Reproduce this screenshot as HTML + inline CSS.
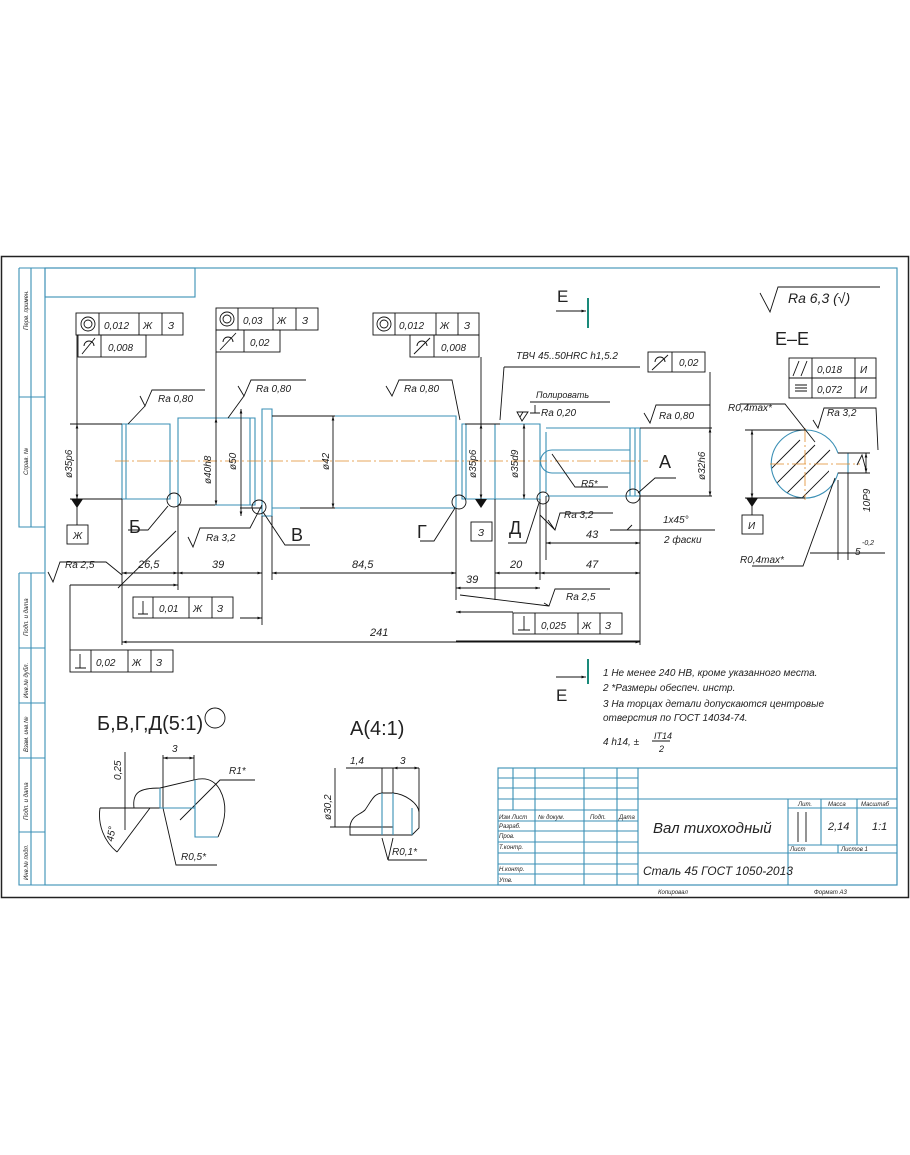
<!DOCTYPE html>
<html><head><meta charset="utf-8"><style>
html,body{margin:0;padding:0;background:#fff;}
svg{display:block;}
text{font-family:"Liberation Sans","DejaVu Sans",sans-serif;font-style:italic;fill:#222;}
.b{stroke:#3a8fb5;fill:none;stroke-width:1.1}
.k{stroke:#111;fill:none;stroke-width:0.9}
.K{stroke:#111;fill:none;stroke-width:1.3}
.c{stroke:#e08a2a;stroke-width:0.8;stroke-dasharray:14 3 2 3;fill:none}
</style></head><body>
<svg width="910" height="1155" viewBox="0 0 910 1155" xmlns="http://www.w3.org/2000/svg">
<defs>
<marker id="a" viewBox="0 0 10 10" refX="10" refY="5" markerWidth="7" markerHeight="5" orient="auto-start-reverse"><path d="M0,2 L10,5 L0,8z" fill="#111"/></marker>
</defs>
<rect x="0" y="0" width="910" height="1155" fill="#fff"/>
<!-- frames -->
<rect x="1.5" y="256.5" width="907" height="641" fill="none" stroke="#222" stroke-width="1.5"/>
<rect x="45" y="268" width="852" height="617" class="b"/>
<rect x="45" y="268" width="150" height="29" class="b"/>
<!-- left strip -->
<path class="b" d="M19,268H45 M19,268V527H45 M31,268V527 M19,397H45 M19,573H45 M19,573V885H45 M31,573V885 M19,648H45 M19,703H45 M19,758H45 M19,832H45"/>
<g font-size="6">
<text transform="translate(28,330) rotate(-90)">Перв. примен.</text>
<text transform="translate(28,475) rotate(-90)">Справ. №</text>
<text transform="translate(28,636) rotate(-90)">Подп. и дата</text>
<text transform="translate(28,698) rotate(-90)">Инв.№ дубл.</text>
<text transform="translate(28,752) rotate(-90)">Взам. инв.№</text>
<text transform="translate(28,820) rotate(-90)">Подп. и дата</text>
<text transform="translate(28,880) rotate(-90)">Инв.№ подл.</text>
</g>
<!-- shaft -->
<path class="b" d="M122,424H170V499H122Z M126,424V499 M170,429V494 M178,418H255V505H178Z M250,418V505 M262,409H272V516H262Z M272,416H456V508H272 M456,420V504 M462,424H495V499H462Z M466,424V499 M495,424H540V499H495 M540,428V496 M546,428H640V496H546 M546,432V492 M630,428V496 M635,428V496"/>
<path class="b" d="M552,450H630 M552,473H630 M552,450A11,11 0 0 0 552,473"/>
<line class="c" x1="115" y1="461" x2="648" y2="461"/>
<!-- black outline helpers -->
<path class="k" d="M70,424H122 M70,499H122 M178,505H215 M240,508H262 M272,416H335 M300,508H335 M640,428H712 M640,496H712 M465,424H500"/>
<!-- dim verticals -->
<g class="k">
<line x1="77" y1="424" x2="77" y2="499" marker-start="url(#a)" marker-end="url(#a)"/>
<line x1="216" y1="418" x2="216" y2="505" marker-start="url(#a)" marker-end="url(#a)"/>
<line x1="241" y1="409" x2="241" y2="516" marker-start="url(#a)" marker-end="url(#a)"/>
<line x1="333" y1="416" x2="333" y2="508" marker-start="url(#a)" marker-end="url(#a)"/>
<line x1="481" y1="424" x2="481" y2="499" marker-start="url(#a)" marker-end="url(#a)"/>
<line x1="524" y1="424" x2="524" y2="499" marker-start="url(#a)" marker-end="url(#a)"/>
<line x1="710" y1="428" x2="710" y2="496" marker-start="url(#a)" marker-end="url(#a)"/>
<path d="M77,335V424 M216,352V418 M481,357V424 M710,372V428 M77,499V525"/>
</g>
<path d="M71,499H83L77,508Z" fill="#111"/>
<path d="M475,499H487L481,508Z" fill="#111"/>
<rect x="67" y="525" width="21" height="19" class="k"/>
<rect x="471" y="522" width="21" height="19" class="k"/>
<g font-size="10">
<text transform="translate(72,478) rotate(-90)">ø35p6</text>
<text transform="translate(211,484) rotate(-90)">ø40h8</text>
<text transform="translate(236,470) rotate(-90)">ø50</text>
<text transform="translate(329,470) rotate(-90)">ø42</text>
<text transform="translate(476,478) rotate(-90)">ø35p6</text>
<text transform="translate(518,478) rotate(-90)">ø35d9</text>
<text transform="translate(705,480) rotate(-90)">ø32h6</text>
<text x="73" y="539">Ж</text><text x="478" y="536">З</text>
</g>
<!-- tolerance frames -->
<g class="k">
<rect x="76" y="313" width="107" height="22"/><path d="M99,313V335 M139,313V335 M162,313V335"/>
<rect x="78" y="335" width="68" height="22"/><path d="M101,335V357"/>
<rect x="216" y="308" width="102" height="22"/><path d="M238,308V330 M273,308V330 M296,308V330"/>
<rect x="216" y="330" width="64" height="22"/><path d="M244,330V352"/>
<rect x="373" y="313" width="106" height="22"/><path d="M395,313V335 M436,313V335 M458,313V335"/>
<rect x="410" y="335" width="69" height="22"/><path d="M434,335V357"/>
<rect x="648" y="352" width="57" height="20"/><path d="M672,352V372"/>
<rect x="789" y="358" width="87" height="20"/><path d="M812,358V378 M855,358V378"/>
<rect x="789" y="378" width="87" height="20"/><path d="M812,378V398 M855,378V398"/>
<rect x="133" y="597" width="100" height="21"/><path d="M153,597V618 M189,597V618 M212,597V618"/>
<rect x="70" y="650" width="103" height="22"/><path d="M91,650V672 M128,650V672 M151,650V672"/>
<rect x="513" y="613" width="109" height="21"/><path d="M535,613V634 M578,613V634 M600,613V634"/>
</g>
<g class="k">
<circle cx="88" cy="324" r="7"/><circle cx="88" cy="324" r="4"/>
<circle cx="227" cy="319" r="7"/><circle cx="227" cy="319" r="4"/>
<circle cx="384" cy="324" r="7"/><circle cx="384" cy="324" r="4"/>
<path d="M82,354L95,338 M84,346A5,5 0 1 1 94,346" />
<path d="M220,350L236,333 M223,342A5,5 0 1 1 233,342"/>
<path d="M414,354L430,338 M417,346A5,5 0 1 1 427,346"/>
<path d="M652,370L668,355 M655,362A5,5 0 1 1 665,362"/>
<path d="M793,376L799,361 M801,376L807,361 M795,385H807 M795,388H807 M795,391H807"/>
<path d="M138,614H148 M143,614V601 M75,668H86 M80,668V654 M518,630H530 M524,630V616"/>
</g>
<g font-size="10">
<text x="104" y="329">0,012</text><text x="143" y="329">Ж</text><text x="168" y="329">З</text>
<text x="108" y="351">0,008</text>
<text x="243" y="324">0,03</text><text x="277" y="324">Ж</text><text x="302" y="324">З</text>
<text x="250" y="346">0,02</text>
<text x="399" y="329">0,012</text><text x="440" y="329">Ж</text><text x="464" y="329">З</text>
<text x="441" y="351">0,008</text>
<text x="679" y="366">0,02</text>
<text x="817" y="373">0,018</text><text x="860" y="373">И</text>
<text x="817" y="393">0,072</text><text x="860" y="393">И</text>
<text x="159" y="612">0,01</text><text x="193" y="612">Ж</text><text x="217" y="612">З</text>
<text x="96" y="666">0,02</text><text x="132" y="666">Ж</text><text x="156" y="666">З</text>
<text x="541" y="629">0,025</text><text x="582" y="629">Ж</text><text x="605" y="629">З</text>
</g>
<!-- roughness -->
<g class="k">
<path d="M140,396L145,406L152,390H205 M145,406L128,424"/>
<path d="M238,386L244,396L251,380H306 M244,396L228,418"/>
<path d="M386,386L392,396L399,380H452L460,420"/>
<path d="M644,413L650,423L656,405H710"/>
<path d="M188,537L193,547L200,528H250L262,505"/>
<path d="M48,572L53,582L60,562H106L122,575 M118,588L176,531"/>
<path d="M548,520L555,530L560,513H613 M555,530L540,515"/>
<path d="M544,603L549,606L555,589H610 M460,595L549,606"/>
<path d="M813,420L818,428L824,408H876L878,450"/>
<path d="M760,293L770,312L778,287H880"/>
<path d="M520,417L523,412H520 M517,412H528L522,421Z M535,405V413 M530,413H540 M530,402H610"/>
<path d="M504,367H640 M504,367L500,420"/>
</g>
<g font-size="10">
<text x="158" y="402">Ra 0,80</text>
<text x="256" y="392">Ra 0,80</text>
<text x="404" y="392">Ra 0,80</text>
<text x="659" y="419">Ra 0,80</text>
<text x="206" y="541">Ra 3,2</text>
<text x="65" y="568">Ra 2,5</text>
<text x="564" y="518">Ra 3,2</text>
<text x="566" y="600">Ra 2,5</text>
<text x="827" y="416">Ra 3,2</text>
<text x="541" y="416">Ra 0,20</text>
<text x="536" y="398" font-size="9">Полировать</text>
<text x="516" y="359">ТВЧ 45..50HRC h1,5.2</text>
</g>
<text x="788" y="303" font-size="14">Ra 6,3 (√)</text>
<!-- detail circles and labels -->
<g class="k">
<circle cx="174" cy="500" r="7"/><circle cx="259" cy="507" r="7"/>
<circle cx="459" cy="502" r="7"/><circle cx="543" cy="498" r="6"/>
<circle cx="633" cy="496" r="7"/>
<path d="M168,506L148,530H128 M263,512L285,545H310 M455,508L434,541H420 M539,503L526,543H508 M638,493L655,478H676"/>
<path d="M552,454L575,487H608"/>
</g>
<g font-size="18" style="font-style:normal">
<text x="129" y="533" style="font-style:normal">Б</text>
<text x="291" y="541" style="font-style:normal">В</text>
<text x="417" y="538" style="font-style:normal">Г</text>
<text x="509" y="534" style="font-style:normal">Д</text>
<text x="659" y="468" style="font-style:normal">А</text>
</g>
<text x="581" y="487" font-size="10">R5*</text>
<text x="663" y="523" font-size="10">1x45°</text>
<text x="664" y="543" font-size="10">2 фаски</text>
<path class="k" d="M625,530H715 M627,530L632,525 M610,530H632 M643,530H655"/>
<!-- lower dimensions -->
<g class="k">
<path d="M122,499V645 M178,505V590 M262,516V625 M272,516V580 M456,508V600 M495,499V600 M540,499V580 M546,496V560 M640,496V645 M70,585V650"/>
<line x1="122" y1="573" x2="178" y2="573" marker-start="url(#a)" marker-end="url(#a)"/>
<line x1="178" y1="573" x2="262" y2="573" marker-start="url(#a)" marker-end="url(#a)"/>
<line x1="272" y1="573" x2="456" y2="573" marker-start="url(#a)" marker-end="url(#a)"/>
<line x1="456" y1="588" x2="540" y2="588" marker-start="url(#a)" marker-end="url(#a)"/>
<line x1="495" y1="573" x2="540" y2="573" marker-start="url(#a)" marker-end="url(#a)"/>
<line x1="540" y1="573" x2="640" y2="573" marker-start="url(#a)" marker-end="url(#a)"/>
<line x1="546" y1="543" x2="640" y2="543" marker-start="url(#a)" marker-end="url(#a)"/>
<line x1="122" y1="642" x2="640" y2="642" marker-start="url(#a)" marker-end="url(#a)"/>
<line x1="70" y1="585" x2="178" y2="585" marker-end="url(#a)"/>
<line x1="240" y1="618" x2="262" y2="618" marker-end="url(#a)"/>
<line x1="456" y1="612" x2="513" y2="612" marker-start="url(#a)"/>
<line x1="456" y1="641" x2="640" y2="641"/>
</g>
<g font-size="11">
<text x="138" y="568">26,5</text><text x="212" y="568">39</text><text x="352" y="568">84,5</text>
<text x="466" y="583">39</text><text x="510" y="568">20</text><text x="586" y="568">47</text>
<text x="586" y="538">43</text><text x="370" y="636">241</text>
</g>
<!-- section marks E -->
<g>
<path class="k" d="M556,311H586" marker-end="url(#a)"/>
<line x1="588" y1="298" x2="588" y2="328" stroke="#1a8a7a" stroke-width="2"/>
<text x="557" y="302" font-size="17" style="font-style:normal">E</text>
<path class="k" d="M556,677H586" marker-end="url(#a)"/>
<line x1="588" y1="659" x2="588" y2="684" stroke="#1a8a7a" stroke-width="2"/>
<text x="556" y="701" font-size="17" style="font-style:normal">E</text>
</g>
<!-- section E-E -->
<text x="775" y="345" font-size="18" style="font-style:normal">E–E</text>
<clipPath id="cc"><path d="M805,430A34,34 0 1 0 838,473H829V453H838A34,34 0 0 0 805,430Z"/></clipPath>
<g clip-path="url(#cc)" class="k"><path d="M760,480L800,440 M765,495L815,445 M775,505L830,450 M790,510L840,460 M750,465L790,425 M745,450L775,420"/></g>
<path class="b" d="M805,430A34,34 0 1 0 838,473H848V453H838A34,34 0 0 0 805,430Z"/>
<path class="c" d="M770,464H860 M805,428V500"/>
<g class="k">
<line x1="752" y1="430" x2="752" y2="498" marker-start="url(#a)" marker-end="url(#a)"/>
<path d="M745,430H805 M745,498H805 M752,498V515 M838,453H870 M838,473H870 M848,473V560 M838,480V560 M740,404H785L815,442 M752,566H803L835,478 M810,553H885"/>
<line x1="866" y1="453" x2="866" y2="473" marker-start="url(#a)" marker-end="url(#a)"/>
<path d="M857,465L862,455L866,470"/>
</g>
<path d="M746,498H758L752,507Z" fill="#111"/>
<rect x="742" y="515" width="21" height="19" class="k"/>
<text x="748" y="529" font-size="10">И</text>
<g font-size="10">
<text x="728" y="411">R0,4max*</text>
<text x="740" y="563">R0,4max*</text>
<text transform="translate(870,512) rotate(-90)">10P9</text>
<text x="855" y="555">5</text><text x="862" y="545" font-size="7">-0,2</text>
</g>
<!-- detail views -->
<text x="97" y="730" font-size="20" style="font-style:normal">Б,В,Г,Д(5:1)</text>
<circle cx="215" cy="718" r="10" class="k"/>
<text x="350" y="735" font-size="20" style="font-style:normal">A(4:1)</text>
<g class="k">
<path d="M134,808C132,792 140,788 160,788L194,780C205,777 214,779 220,790C228,805 225,822 218,837"/>
<path d="M163,755V808 M194,755V780"/>
<line x1="163" y1="758" x2="194" y2="758" marker-start="url(#a)" marker-end="url(#a)"/>
<path d="M100,808H163 M125,752V830 M163,808L176,865H217 M150,808L117,852 M100,808A48,48 0 0 0 117,852 M180,820L220,780H255"/>
</g>
<path class="b" d="M160,788V808H185 M195,780V837H218 M185,808L195,808"/>
<g font-size="10">
<text x="172" y="752">3</text>
<text x="229" y="774">R1*</text>
<text transform="translate(121,780) rotate(-90)">0,25</text>
<text x="181" y="860">R0,5*</text>
<text transform="translate(113,842) rotate(-80)">45°</text>
</g>
<g class="k">
<path d="M350,826C352,815 360,815 365,810C372,800 374,793 383,793H393C405,794 418,803 419,812V828L412,835H350Z"/>
<path d="M346,768H393 M382,768V835 M393,768V835 M419,768V812 M335,768V827 M330,827H393 M388,860L382,838 M388,860L393,838 M388,860H427"/>
<line x1="393" y1="768" x2="419" y2="768" marker-start="url(#a)" marker-end="url(#a)"/>
</g>
<path class="b" d="M382,793V835 M393,793V835 M412,808V835"/>
<g font-size="10">
<text x="350" y="764">1,4</text><text x="400" y="764">3</text>
<text transform="translate(331,820) rotate(-90)">ø30,2</text>
<text x="392" y="855">R0,1*</text>
</g>
<!-- notes -->
<g font-size="10">
<text x="603" y="676">1 Не менее 240 HB, кроме указанного места.</text>
<text x="603" y="691">2  *Размеры обеспеч. инстр.</text>
<text x="603" y="707">3  На торцах детали допускаются центровые</text>
<text x="603" y="721">отверстия по ГОСТ 14034-74.</text>
<text x="603" y="745">4  h14, ±</text>
<text x="654" y="739" font-size="9">IT14</text>
<line x1="652" y1="741" x2="670" y2="741" class="k"/>
<text x="659" y="752" font-size="9">2</text>
</g>
<!-- title block -->
<g class="b">
<rect x="498" y="768" width="399" height="117"/>
<path d="M498,778H638 M498,788H638 M498,799H638 M498,810H638 M498,821H638 M498,831H638 M498,842H638 M498,853H638 M498,864H638 M498,874H638"/>
<path d="M513,768V810 M535,768V885 M584,768V885 M617,768V885 M638,768V885"/>
<path d="M638,799H897 M638,853H897 M788,799V885 M788,808H897 M788,845H897 M821,799V845 M857,799V845 M838,845V853"/>
</g>
<path class="k" d="M798,812V842 M806,812V842"/>
<g font-size="6">
<text x="499" y="819">Изм Лист</text><text x="538" y="819">№ докум.</text><text x="590" y="819">Подп.</text><text x="619" y="819">Дата</text>
<text x="499" y="828">Разраб.</text><text x="499" y="838">Пров.</text><text x="499" y="849">Т.контр.</text>
<text x="499" y="871">Н.контр.</text><text x="499" y="882">Утв.</text>
<text x="798" y="806">Лит.</text><text x="828" y="806">Масса</text><text x="861" y="806">Масштаб</text>
<text x="790" y="851">Лист</text><text x="841" y="851">Листов  1</text>
<text x="658" y="894">Копировал</text><text x="814" y="894">Формат   А3</text>
</g>
<text x="653" y="833" font-size="15">Вал тихоходный</text>
<text x="643" y="875" font-size="12">Сталь 45  ГОСТ 1050-2013</text>
<text x="828" y="830" font-size="11">2,14</text>
<text x="872" y="830" font-size="11">1:1</text>
</svg>
</body></html>
